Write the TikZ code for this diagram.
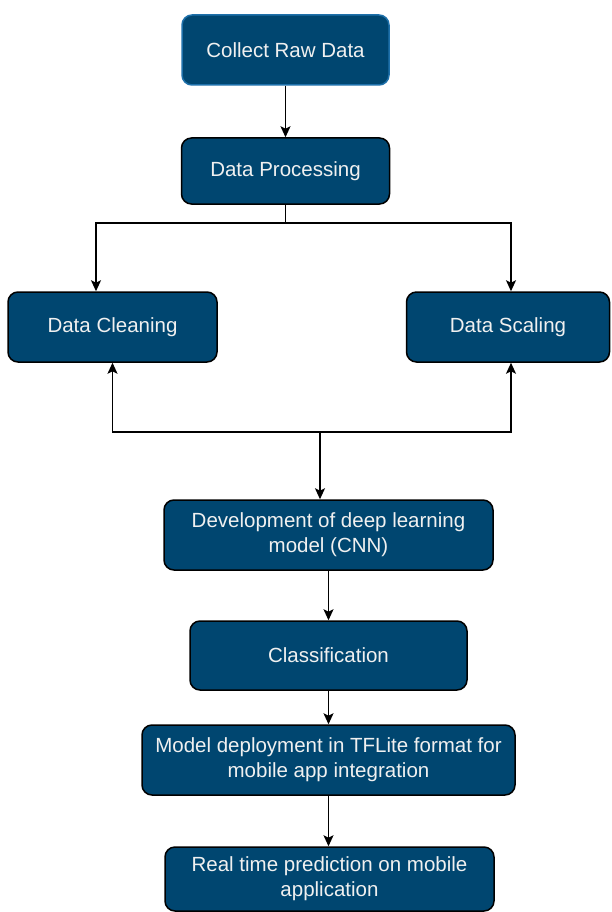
\documentclass[tikz,border=0pt]{standalone}
\usepackage{fontspec}
\setmainfont{Liberation Sans}
\usetikzlibrary{arrows.meta,calc}
\definecolor{boxfill}{RGB}{0,70,112}
\definecolor{topborder}{RGB}{30,112,170}
\definecolor{boxtext}{RGB}{240,240,240}
\tikzset{
  flowbox/.style={draw=black, line width=1.5pt, fill=boxfill, rounded corners=10pt,
    text=boxtext, align=center, inner sep=0pt,
    font=\fontsize{20.5}{25}\selectfont},
  arr/.style={draw=black, line width=1.6pt, -{Stealth[length=11pt,width=10pt,inset=2.5pt]}},
  plain/.style={draw=black, line width=1.6pt}
}
\begin{document}
\begin{tikzpicture}[x=1pt,y=-1pt]
\useasboundingbox (0,0) rectangle (611,912);
\node[flowbox, draw=topborder, minimum width=207pt, minimum height=70pt] (collect) at (285.5,50) {Collect Raw Data};
\node[flowbox, minimum width=208pt, minimum height=66pt] (proc) at (285.5,171) {Data Processing};
\node[flowbox, minimum width=209pt, minimum height=70pt] (clean) at (112.5,327) {Data Cleaning};
\node[flowbox, minimum width=203pt, minimum height=70pt] (scale) at (508,327) {Data Scaling};
\node[flowbox, minimum width=329pt, minimum height=70pt] (dev) at (328.5,535) {Development of deep learning\\model (CNN)};
\node[flowbox, minimum width=277pt, minimum height=69pt] (class) at (328.5,655.5) {Classification};
\node[flowbox, minimum width=373pt, minimum height=70pt] (deploy) at (328.5,760) {Model deployment in TFLite format for\\mobile app integration};
\node[flowbox, minimum width=329pt, minimum height=64pt] (real) at (329.5,879) {Real time prediction on mobile\\application};

\coordinate (split) at ($(proc.south)+(0,18)$);
\coordinate (merge) at (320,432);

\draw[arr] (collect.south) -- (proc.north);
\draw[plain] (proc.south) -- (split);
\draw[arr] (split) -| ([xshift=-16.5pt]clean.north);
\draw[arr] (split) -| ([xshift=3pt]scale.north);
\draw[arr] (merge) -| (clean.south);
\draw[arr] (merge) -| ([xshift=3pt]scale.south);
\draw[arr] (merge) -- (merge |- dev.north);
\draw[arr] (dev.south) -- (class.north);
\draw[arr] (class.south) -- (deploy.north);
\draw[arr] (deploy.south) -- (deploy.south |- real.north);
\end{tikzpicture}
\end{document}
